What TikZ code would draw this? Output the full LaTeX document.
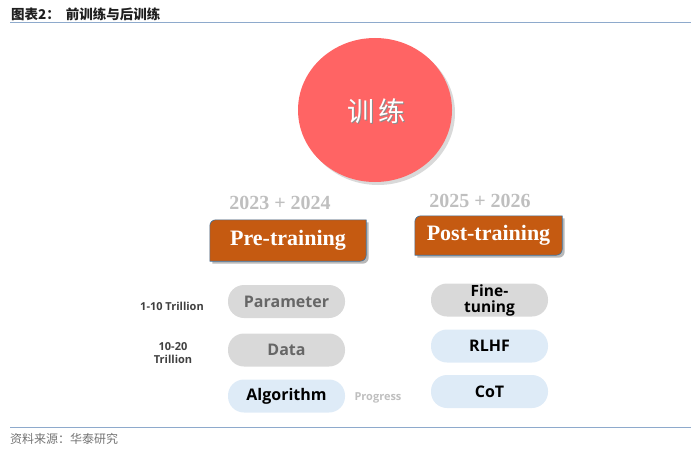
\documentclass[tikz,border=0pt]{standalone}
\usepackage{fontspec}
\setmainfont{Liberation Serif}
\newfontfamily\osans{Open Sans}
\newfontfamily\cjk{Noto Sans CJK SC}
\usetikzlibrary{backgrounds,shadows,shapes.geometric}
\definecolor{boxorange}{HTML}{C55A11}
\definecolor{boxedge}{HTML}{41719C}
\definecolor{circred}{HTML}{FF6464}
\definecolor{yeargray}{HTML}{BFBFBF}
\definecolor{pillgray}{HTML}{D9D9D9}
\definecolor{pillblue}{HTML}{DEEBF7}
\definecolor{rulecol}{HTML}{8EAACC}
\definecolor{labgray}{HTML}{404040}
\definecolor{pilltextgray}{HTML}{666666}
\tikzset{
  pill/.style={rounded corners=16pt, minimum width=117pt, minimum height=33pt,
    inner sep=0pt, align=center, font=\osans\bfseries\fontsize{16}{16}\selectfont},
  graypill/.style={pill, fill=pillgray},
  bluepill/.style={pill, fill=pillblue, text=black},
  sidelab/.style={font=\osans\bfseries\fontsize{11}{12.5}\selectfont, text=labgray, align=center},
  yearlab/.style={font=\bfseries\fontsize{20}{24}\selectfont, text=yeargray},
  phasebox/.style={font=\bfseries\fontsize{22}{24}\selectfont, text=white, inner sep=0pt},
  phaseshape/.style={fill=boxorange, draw=boxedge, line width=0.6pt,
    preaction={fill=black, opacity=0.28, transform canvas={xshift=2.5pt, yshift=-2.5pt}}},
  rule/.style={draw=rulecol, line width=1.5pt}
}
\begin{document}
\begin{tikzpicture}[x=1pt,y=-1pt]
\useasboundingbox (0,0) rectangle (700,449);
% title and rules
\node[anchor=west, font=\cjk\bfseries\fontsize{13.5}{15}\selectfont, text=black!88, inner sep=0pt] (title) at (11,14) {图表2：\hspace{6pt}前训练与后训练};
\coordinate (t1) at (10,22.7);
\coordinate (t2) at (691,22.7);
\draw[rule] (t1) -- (t2);
\coordinate (b1) at (10,427.5);
\coordinate (b2) at (691,427.5);
\draw[rule] (b1) -- (b2);
\node[anchor=west, font=\cjk\fontsize{12}{14}\selectfont, text=black!55, inner sep=0pt] (source) at (10,438.5) {资料来源：华泰研究};
% central circle
\node[ellipse, minimum width=154pt, minimum height=144pt, fill=circred,
  drop shadow={shadow xshift=3pt, shadow yshift=-3pt, opacity=0.3}] (train) at (375,110) {};
\node[font=\cjk\fontsize{27}{30}\selectfont, text=black!45] (trainshadow) at (377.2,112.2) {训\hspace{4pt}练};
\node[font=\cjk\fontsize{27}{30}\selectfont, text=white] (traintext) at (376,111) {训\hspace{4pt}练};
% years
\node[yearlab] (y1) at (280,203) {2023 + 2024};
\node[yearlab] (y2) at (480,200.5) {2025 + 2026};
% phase boxes
\node[phasebox, minimum width=156pt, minimum height=41pt] (pre) at (288,240.5) {Pre-training};
\node[phasebox, minimum width=147pt, minimum height=39pt] (post) at (488.5,235.5) {Post-training};
\begin{scope}[on background layer]
\path[phaseshape] (pre.south west) [rounded corners=6pt] -- (pre.north west) [sharp corners] -- (pre.north east) [rounded corners=6pt] -- (pre.south east) [sharp corners] -- cycle;
\path[phaseshape] (post.south west) [rounded corners=6pt] -- (post.north west) [sharp corners] -- (post.north east) [rounded corners=6pt] -- (post.south east) [sharp corners] -- cycle;
\end{scope}
% left column
\node[graypill, text=pilltextgray] (param) at (286.5,301.5) {Parameter};
\node[graypill, text=pilltextgray] (data) at (286.5,350) {Data};
\node[bluepill] (algo) at (286.5,396) {Algorithm};
% right column
\node[graypill, text=black, font=\osans\bfseries\fontsize{15.5}{16}\selectfont] (fine) at (489.5,300) {Fine-\\tuning};
\node[bluepill] (rlhf) at (489.5,346) {RLHF};
\node[bluepill] (cot) at (489.5,391.5) {CoT};
% side labels
\node[sidelab] (l1) at (172,306) {1-10 Trillion};
\node[sidelab] (l2) at (173,353) {10-20\\Trillion};
\node[sidelab, text=yeargray] (prog) at (378,398) {Progress};
\end{tikzpicture}
\end{document}
